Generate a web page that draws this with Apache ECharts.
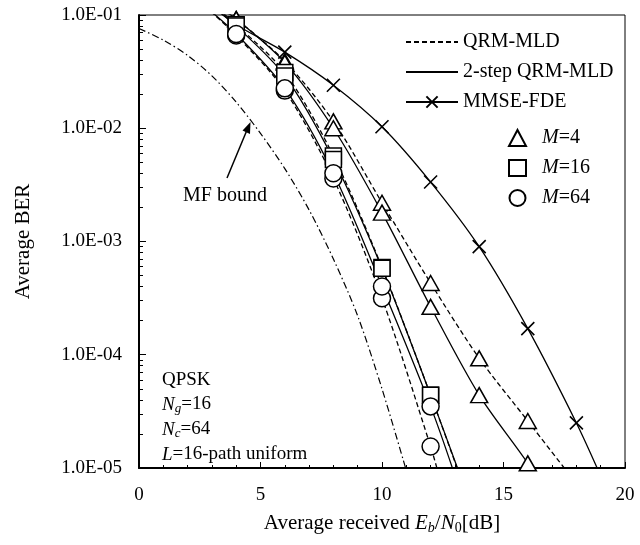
<!DOCTYPE html>
<html>
<head>
<meta charset="utf-8">
<script src="https://cdn.jsdelivr.net/npm/echarts@6/dist/echarts.min.js"></script>
<style>
html, body { margin: 0; padding: 0; background: #fff; }
#chart { width: 640px; height: 545px; }
</style>
</head>
<body>
<div id="chart"></div>
<script>
var dom = document.getElementById("chart");
var myChart = echarts.init(dom);

var FONT = 'Liberation Serif';

// Eb/N0 [dB] of the simulated points
var snr = [4, 6, 8, 10, 12, 14, 16];
var snrMmse = [4, 6, 8, 10, 12, 14, 16, 18];

// M=4 (triangles)
var qrm4 = [9.2e-2, 3.9e-2, 1.15e-2, 2.2e-3, 4.3e-4, 9.3e-5, 2.6e-5];
var step4 = [9.2e-2, 3.8e-2, 1.0e-2, 1.8e-3, 2.65e-4, 4.4e-5, 1.1e-5];
// M=16 (squares)
var qrm16 = [8.2e-2, 3.1e-2, 5.7e-3, 5.9e-4, 4.4e-5];
var step16 = [8.0e-2, 2.9e-2, 5.3e-3, 5.8e-4, 4.4e-5];
// M=64 (circles)
var qrm64 = [6.6e-2, 2.15e-2, 3.6e-3, 3.15e-4, 1.55e-5];
var step64 = [6.8e-2, 2.25e-2, 4.0e-3, 4.0e-4, 3.5e-5];
// MMSE-FDE
var mmse = [8.2e-2, 4.7e-2, 2.4e-2, 1.03e-2, 3.35e-3, 9.0e-4, 1.7e-4, 2.5e-5];
// MF bound
var mfSnr = [0, 1, 2, 3, 4, 5, 6, 7, 8, 9, 10, 11];
var mfBound = [7.6e-2, 6.0e-2, 4.4e-2, 2.9e-2, 1.7e-2, 9.0e-3, 4.4e-3, 1.9e-3, 7.0e-4, 2.2e-4, 5.0e-5, 9.5e-6];

// where each curve leaves the frame (top, bottom)
var qrm4Ends = [[3, 0.13], [17.7, 8.8e-6]];
var step4Ends = [[3, 0.13], [16.25, 8.5e-6]];
var qrm16Ends = [[3, 0.125], [13.2, 8.6e-6]];
var step16Ends = [[3, 0.12], [13.2, 8.8e-6]];
var qrm64Ends = [[2.7, 0.12], [12.35, 8.5e-6]];
var step64Ends = [[2.7, 0.12], [13.0, 8.6e-6]];
var mmseEnds = [[3, 0.12], [19, 8.5e-6]];

var xTicks = ['0', '5', '10', '15', '20'];
var yTicks = ['1.0E-05', '1.0E-04', '1.0E-03', '1.0E-02', '1.0E-01'];

function pts(xs, ys) {
    return ys.map(function (y, i) { return [xs[i], y]; });
}
function curve(xs, ys, ends) {
    return [ends[0]].concat(pts(xs, ys), [ends[1]]);
}

var dashed = [5, 3];

function lineSeries(name, data, type) {
    return {
        name: name,
        type: 'line',
        data: data,
        smooth: 0.3,
        symbol: 'none',
        z: 2,
        itemStyle: { color: '#000', opacity: 0 },
        lineStyle: { color: '#000', width: 1.3, type: type }
    };
}

function markerSeries(name, symbol, size, data) {
    return {
        name: name,
        type: 'scatter',
        symbol: symbol,
        symbolSize: size,
        data: data,
        z: 4,
        itemStyle: { color: '#fff', borderColor: '#000', borderWidth: 1.5, opacity: 1 }
    };
}

var mmseData = pts(snrMmse, mmse);
mmseData.unshift({ value: mmseEnds[0], symbol: 'none' });
mmseData.push({ value: mmseEnds[1], symbol: 'none' });

var subRich = {
    i: { fontStyle: 'italic', fontSize: 19, fontFamily: FONT, lineHeight: 22 },
    s: { fontStyle: 'italic', fontSize: 13, fontFamily: FONT, lineHeight: 12, verticalAlign: 'bottom' }
};

var option = {
    animation: false,
    backgroundColor: '#fff',
    textStyle: { fontFamily: FONT, color: '#000' },
    grid: {
        left: 139, right: 15, top: 15, bottom: 77,
        show: true, borderColor: '#000', borderWidth: 1
    },
    legend: [{
        data: ['QRM-MLD', '2-step QRM-MLD', 'MMSE-FDE'],
        orient: 'vertical',
        left: 400, top: 27,
        itemWidth: 52, itemHeight: 14, itemGap: 10,
        selectedMode: false,
        textStyle: { fontFamily: FONT, fontSize: 20, color: '#000' }
    }, {
        data: ['M=4', 'M=16', 'M=64'],
        orient: 'vertical',
        left: 503, top: 123,
        itemWidth: 17, itemHeight: 16, itemGap: 10,
        selectedMode: false,
        formatter: function (name) {
            return '{i|M}' + name.slice(1);
        },
        textStyle: {
            fontFamily: FONT, fontSize: 20, color: '#000', padding: [0, 0, 0, 11],
            rich: { i: { fontFamily: FONT, fontSize: 20, fontStyle: 'italic', color: '#000' } }
        }
    }],
    xAxis: {
        type: 'value',
        min: 0, max: 20, interval: 5,
        axisLine: { lineStyle: { color: '#000', width: 2 } },
        axisTick: { inside: true, length: 6, lineStyle: { color: '#000', width: 1 } },
        minorTick: { show: true, splitNumber: 5, length: 3, lineStyle: { color: '#000', width: 1 } },
        splitLine: { show: false },
        axisLabel: {
            color: '#000', fontFamily: FONT, fontSize: 19, margin: 18,
            formatter: function (v) { return xTicks[v / 5]; }
        },
        name: 'Average received {i|E}{s|b}/{i|N}{s0|0}[dB]',
        nameLocation: 'middle',
        nameGap: 43,
        nameTextStyle: {
            fontFamily: FONT, fontSize: 21, color: '#000', lineHeight: 24,
            rich: {
                i: { fontFamily: FONT, fontSize: 21, fontStyle: 'italic', color: '#000', lineHeight: 24 },
                s: { fontFamily: FONT, fontSize: 14, fontStyle: 'italic', color: '#000', lineHeight: 14, verticalAlign: 'bottom' },
                s0: { fontFamily: FONT, fontSize: 14, color: '#000', lineHeight: 14, verticalAlign: 'bottom' }
            }
        }
    },
    yAxis: {
        type: 'log',
        logBase: 10,
        min: 1e-5, max: 1e-1,
        axisLine: { show: true, lineStyle: { color: '#000', width: 2 } },
        axisTick: { show: true, inside: true, length: 7, lineStyle: { color: '#000', width: 1 } },
        minorTick: { show: true, splitNumber: 9, length: 4, lineStyle: { color: '#000', width: 1 } },
        splitLine: { show: false },
        axisLabel: {
            color: '#000', fontFamily: FONT, fontSize: 19, margin: 17,
            formatter: function (v) {
                return yTicks[Math.round(Math.log10(v)) + 5];
            }
        },
        name: 'Average BER',
        nameLocation: 'middle',
        nameGap: 105,
        nameTextStyle: { fontFamily: FONT, fontSize: 21, color: '#000' }
    },
    graphic: [
        {
            type: 'text', left: 183, top: 186, z: 10,
            style: { text: 'MF bound', font: '20px "Liberation Serif"', fill: '#000' }
        },
        {
            type: 'line', z: 10,
            shape: { x1: 227, y1: 178, x2: 247, y2: 130 },
            style: { stroke: '#000', lineWidth: 1.5 }
        },
        {
            type: 'polygon', z: 10,
            shape: { points: [[250.5, 122], [250, 134], [242.5, 130.5]] },
            style: { fill: '#000' }
        },
        {
            type: 'text', left: 162, top: 371, z: 10,
            style: { text: 'QPSK', font: '19px "Liberation Serif"', fill: '#000' }
        },
        {
            type: 'text', left: 162, top: 395, z: 10,
            style: { text: '{i|N}{s|g}=16', font: '19px "Liberation Serif"', fill: '#000', rich: subRich }
        },
        {
            type: 'text', left: 162, top: 420, z: 10,
            style: { text: '{i|N}{s|c}=64', font: '19px "Liberation Serif"', fill: '#000', rich: subRich }
        },
        {
            type: 'text', left: 162, top: 445, z: 10,
            style: {
                text: '{i|L}=16-path uniform', font: '19px "Liberation Serif"', fill: '#000',
                rich: { i: { fontStyle: 'italic', fontSize: 19, fontFamily: FONT } }
            }
        }
    ],
    series: [
        {
            name: 'MF bound', type: 'line', data: pts(mfSnr, mfBound),
            smooth: 0.3, symbol: 'none', z: 2,
            lineStyle: { color: '#000', width: 1.2, type: [7, 3, 1.5, 3] }
        },
        lineSeries('QRM-MLD', curve(snr, qrm4, qrm4Ends), dashed),
        lineSeries('2-step QRM-MLD', curve(snr, step4, step4Ends), 'solid'),
        lineSeries('QRM-MLD', curve(snr.slice(0, 5), qrm16, qrm16Ends), dashed),
        lineSeries('2-step QRM-MLD', curve(snr.slice(0, 5), step16, step16Ends), 'solid'),
        lineSeries('QRM-MLD', curve(snr.slice(0, 5), qrm64, qrm64Ends), dashed),
        lineSeries('2-step QRM-MLD', curve(snr.slice(0, 5), step64, step64Ends), 'solid'),
        {
            name: 'MMSE-FDE', type: 'line', data: mmseData,
            smooth: 0.3, z: 3,
            symbol: 'path://M0,0L10,10M10,0L0,10', symbolSize: 13, showSymbol: true,
            lineStyle: { color: '#000', width: 1.3 },
            itemStyle: { color: '#000', borderColor: '#000', borderWidth: 1.6 }
        },
        markerSeries('M=4', 'triangle', [17, 15], pts(snr, qrm4).concat(pts(snr, step4))),
        markerSeries('M=16', 'rect', 16, pts(snr, qrm16).concat(pts(snr, step16))),
        markerSeries('M=64', 'circle', 17, pts(snr, qrm64).concat(pts(snr, step64)))
    ]
};

if (option && typeof option === 'object') {
    myChart.setOption(option);
}
</script>
</body>
</html>
